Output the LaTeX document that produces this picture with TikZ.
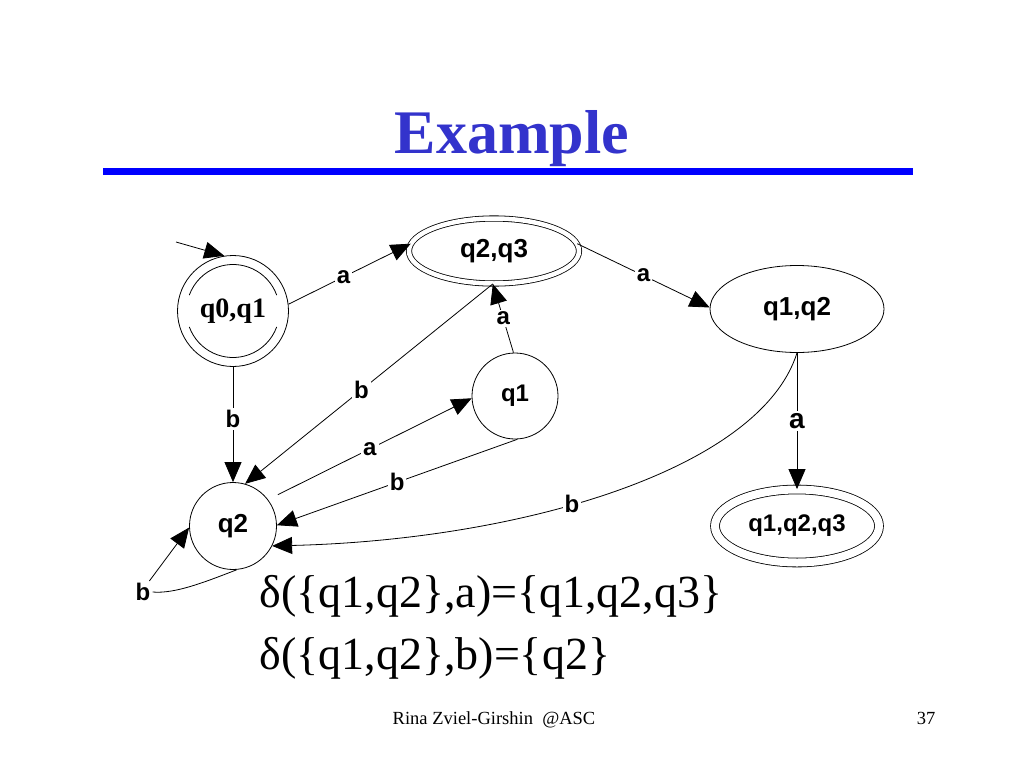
\documentclass[tikz,border=0pt]{standalone}
\usepackage{fontspec}
\setmainfont{Liberation Serif}
\newfontfamily\arialbf{Liberation Sans}
\usetikzlibrary{arrows.meta, shapes.geometric}
\newcommand{\fsz}[1]{\fontsize{#1}{#1}\selectfont}
\definecolor{titleblue}{RGB}{51,51,204}
\definecolor{ruleblue}{RGB}{0,0,255}

\begin{document}
\begin{tikzpicture}[x=1pt, y=-1pt,
	state/.style={draw, circle, line width=0.8pt, inner sep=0pt, font=\arialbf\bfseries\fsz{26}},
	oval/.style={draw, ellipse, line width=0.8pt, inner sep=0pt, font=\arialbf\bfseries\fsz{26}},
	final/.style={double, double distance=#1},
	trans/.style={-{Triangle[length=20pt, width=17pt]}, line width=0.8pt},
	sym/.style={fill=white, inner sep=2pt, font=\arialbf\bfseries\fsz{24}}]
	\fill[white] (0,0) rectangle (1024,768);

	\node[anchor=base, text=titleblue, font=\bfseries\fsz{62}] (title) at (512,153) {Example};
	\draw[ruleblue, line width=7pt] (103,171) -- (913,171);

	\node[state, minimum size=111pt, font=\bfseries\fsz{28}] (q01) at (233,311) {q0,q1};
	\draw[line width=0.8pt] ([shift={(20:46.5pt)}]q01.center) arc[start angle=20, end angle=160, radius=46.5pt];
	\draw[line width=0.8pt] ([shift={(200:46.5pt)}]q01.center) arc[start angle=200, end angle=340, radius=46.5pt];
	\node[oval, final=4.5pt, minimum width=170pt, minimum height=65pt] (q23) at (494,251) {q2,q3};
	\node[oval, minimum width=174pt, minimum height=87pt] (q12) at (797,309) {q1,q2};
	\node[state, minimum size=86pt, font=\arialbf\bfseries\fsz{24}] (q1) at (515,396) {q1};
	\node[state, minimum size=87pt] (q2) at (233,526) {q2};
	\node[oval, final=8pt, minimum width=164pt, minimum height=73pt, font=\arialbf\bfseries\fsz{24}] (q123) at (797,526) {q1,q2,q3};

	\coordinate (start) at (176,242);
	\draw[trans] (start) -- (q01.99);
	\draw[trans] (q01.7) -- node[sym, pos=0.45] {a} (q23.175);
	\draw[trans] (q23.5) -- node[sym] {a} (q12.179);
	\draw[trans] (q01.south) -- node[sym, pos=0.45] {b} (q2.north);
	\draw[trans] (q23.-92) -- node[sym, pos=0.53] {b} (q2.74);
	\draw[trans] (q1.92) -- node[sym] {a} (q23.-92);
	\draw[trans, shorten <=11pt] (q2.37) -- node[sym] {a} (q1.183);
	\draw[trans] (q1.-87) -- node[sym] {b} (q2.1);
	\draw[trans] (q12.south) .. controls (760,470) and (520,540) .. node[sym, pos=0.57] {b} (q2.-27);
	\draw[trans] (q12.south) -- node[sym, font=\arialbf\bfseries\fsz{28}] {a} (q123.north);
	\node[sym] (loopb) at (143,592) {b};
	\draw[line width=0.8pt] (q2.-85) .. controls (205,582) and (175,594) .. (loopb.east);
	\draw[trans] (loopb.60) -- (q2.182);

	\node[anchor=base west, font=\fsz{46}] (delta1) at (256,607) {δ(\{q1,q2\},a)=\{q1,q2,q3\}};
	\node[anchor=base west, font=\fsz{46}] (delta2) at (256,669) {δ(\{q1,q2\},b)=\{q2\}};

	\node[anchor=base, font=\fsz{18.5}] (footer) at (494,724) {Rina Zviel-Girshin\ \ @ASC};
	\node[anchor=base, font=\fsz{18.5}] (page) at (926,724) {37};
\end{tikzpicture}
\end{document}
